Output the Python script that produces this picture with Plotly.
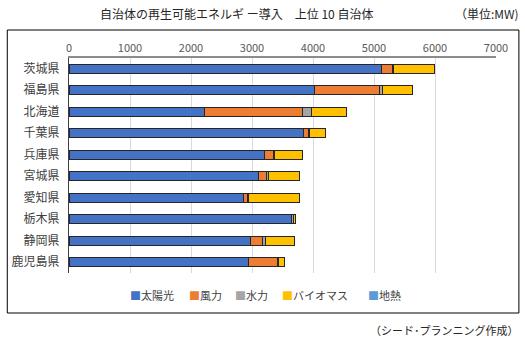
import plotly.graph_objects as go

# Top 10 municipalities by installed renewable capacity (MW)
prefectures = ["茨城県", "福島県", "北海道", "千葉県", "兵庫県",
               "宮城県", "愛知県", "栃木県", "静岡県", "鹿児島県"]
solar = [5130, 4030, 2220, 3845, 3200, 3105, 2860, 3650, 2975, 2935]
wind = [165, 1065, 1605, 80, 150, 140, 70, 0, 200, 485]
hydro = [30, 50, 145, 25, 20, 25, 20, 30, 40, 20]
biomass = [670, 490, 575, 250, 455, 515, 825, 40, 475, 90]
geothermal = [0, 0, 0, 0, 0, 0, 0, 0, 0, 0]

series = [
    ("太陽光", solar, "#4472C4"),
    ("風力", wind, "#ED7D31"),
    ("水力", hydro, "#A5A5A5"),
    ("バイオマス", biomass, "#FFC000"),
    ("地熱", geothermal, "#5B9BD5"),
]

FONT = "Noto Sans CJK JP"

fig = go.Figure()
for name, vals, color in series:
    fig.add_trace(go.Bar(
        y=prefectures, x=vals, name=name, orientation="h",
        marker=dict(color=color, line=dict(color="#262626", width=1)),
        width=0.4, showlegend=False,
    ))

# plot-area pixel frame: x 67..496, y 58..273
L, R, T, B = 67, 496, 58, 273
W, H = R - L, B - T


def px(x):
    return (x - L) / W


def py(y):
    return (B - y) / H


# compact legend row: colored square followed by the series name
legend_x = [126, 186, 232, 279, 365]
annotations = []
for (name, _, color), lx in zip(series, legend_x):
    annotations.append(dict(
        text=f"<span style='color:{color}'>■</span>{name}",
        xref="paper", yref="paper", x=px(lx), y=py(295),
        xanchor="left", yanchor="middle", showarrow=False,
        font=dict(size=11, color="#404040")))

annotations += [
    dict(text="自治体の再生可能エネルギ ー導入　上位 10 自治体",
         xref="paper", yref="paper", x=px(235), y=py(14),
         xanchor="center", yanchor="middle", showarrow=False,
         font=dict(size=12, color="#262626")),
    dict(text="（単位:MW)", xref="paper", yref="paper",
         x=px(521), y=py(14), xanchor="right", yanchor="middle",
         showarrow=False, font=dict(size=12, color="#262626")),
    dict(text="（シード･プランニング作成）", xref="paper", yref="paper",
         x=px(521), y=py(330), xanchor="right", yanchor="middle",
         showarrow=False, font=dict(size=11, color="#262626")),
]

fig.update_layout(
    width=525, height=344,
    margin=dict(l=L, r=525 - R, t=T, b=344 - B),
    barmode="stack",
    plot_bgcolor="white", paper_bgcolor="white",
    font=dict(family=FONT, size=11, color="#404040"),
    showlegend=False,
    xaxis=dict(side="top", range=[0, 7000], dtick=1000,
               showgrid=True, gridcolor="#D9D9D9", gridwidth=1,
               zeroline=False, showline=True, linecolor="#8C8C8C", linewidth=2,
               tickfont=dict(size=11, color="#595959"), ticks=""),
    yaxis=dict(autorange="reversed", showline=True, linecolor="#404040",
               linewidth=1, ticks="", ticklabelstandoff=6,
               tickfont=dict(size=12, color="#404040")),
    shapes=[dict(type="rect", xref="paper", yref="paper",
                 x0=px(5), x1=px(519), y0=py(313), y1=py(30),
                 line=dict(color="#000000", width=1), layer="below")],
    annotations=annotations,
)

fig.write_html("out.html")
